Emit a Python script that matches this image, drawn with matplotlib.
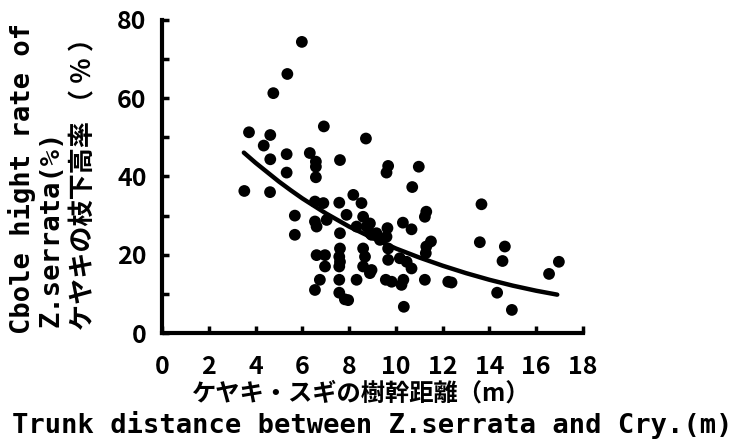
import matplotlib.pyplot as plt
import numpy as np

# distance between trunks (m) and clear-bole height rate (%)
dist = [5.98, 5.36, 4.76, 3.72, 4.63, 4.35, 4.63, 5.33, 6.32, 5.33,
        3.52, 4.62, 5.68, 5.68, 6.92, 8.72, 6.58, 6.58, 7.61, 6.58,
        9.67, 9.60, 10.98, 10.70, 13.66, 8.18, 8.53, 6.54, 6.90, 7.58,
        6.54, 6.61, 7.89, 8.60, 8.75, 8.90, 7.61, 7.61, 9.64, 9.60,
        10.30, 10.67, 11.30, 11.24, 11.50, 11.30, 11.28, 13.59, 14.66, 14.56,
        16.97, 16.55, 14.33, 14.96, 10.34, 11.24, 12.24, 12.38, 6.61, 6.97,
        6.97, 6.75, 6.54, 7.58, 7.61, 7.58, 7.58, 7.58, 7.82, 7.96,
        8.60, 8.68, 8.60, 8.89, 8.32, 9.67, 9.67, 9.57, 9.82, 10.17,
        10.46, 10.67, 10.32, 10.24, 9.17, 9.32, 8.89, 8.32, 8.96, 8.96,
        7.04]
rate = [74.4, 66.2, 61.3, 51.3, 50.6, 47.9, 44.4, 45.7, 46.0, 41.0,
        36.3, 36.0, 30.0, 25.1, 52.8, 49.7, 43.8, 42.5, 44.2, 39.8,
        42.7, 41.0, 42.5, 37.3, 32.9, 35.3, 33.2, 33.6, 33.2, 33.3,
        28.5, 27.2, 30.2, 29.7, 27.2, 25.5, 25.5, 21.6, 26.8, 24.6,
        28.2, 26.5, 31.0, 29.7, 23.4, 22.1, 20.4, 23.2, 22.1, 18.4,
        18.2, 15.1, 10.3, 5.9, 6.7, 13.6, 13.1, 12.9, 19.9, 19.9,
        17.0, 13.6, 11.0, 19.5, 18.2, 17.0, 13.6, 10.3, 8.6, 8.4,
        21.6, 19.5, 17.0, 15.3, 13.6, 21.6, 18.7, 13.6, 13.1, 19.1,
        18.2, 16.5, 13.6, 12.3, 25.5, 23.8, 28.0, 27.2, 25.1, 16.1,
        28.9]

# fitted curve
fit_x = [3.5, 4.0, 4.5, 5.0, 5.5, 6.0, 7.0, 8.0, 9.0, 10.0, 11.0, 12.0,
         13.0, 14.0, 15.0, 16.0, 16.9]
fit_y = [46.1, 43.5, 41.1, 38.7, 36.5, 34.4, 30.6, 27.2, 24.3, 21.6, 19.3,
         17.2, 15.3, 13.6, 12.1, 10.8, 9.8]

jp = ['Noto Sans CJK JP', 'DejaVu Sans']
en = ['DejaVu Sans Mono', 'Noto Sans CJK JP']
num = ['Liberation Sans Narrow', 'Noto Sans CJK JP']

fig = plt.figure(figsize=(7.37, 4.44), dpi=100)
ax = fig.add_axes([0.2198, 0.25, 0.5712, 0.705])

ax.scatter(dist, rate, s=72, c='black', edgecolors='none', zorder=3)
ax.plot(fit_x, fit_y, c='black', lw=3.2, solid_capstyle='round',
        solid_joinstyle='round', zorder=2)

ax.set_xlim(0, 18)
ax.set_ylim(0, 80)
ax.set_xticks(np.arange(0, 19, 2))
ax.set_yticks(np.arange(0, 81, 10))
ax.set_yticklabels(['0', '', '20', '', '40', '', '60', '', '80'])

for s in ['top', 'right']:
    ax.spines[s].set_visible(False)
for s in ['left', 'bottom']:
    ax.spines[s].set_linewidth(3)
ax.tick_params(direction='in', length=5, width=2.5)
ax.tick_params(axis='x', pad=16)
ax.tick_params(axis='y', pad=11)

for lab in ax.get_xticklabels() + ax.get_yticklabels():
    lab.set_family(num)
    lab.set_fontweight('bold')
    lab.set_fontsize(18)

fig.text(0.49, 0.113, 'ケヤキ・スギの樹幹距離（m）', family=jp, fontweight='bold',
         fontsize=17.5, ha='center', va='center')
fig.text(0.505, 0.043, 'Trunk distance between Z.serrata and Cry.(m)', family=en,
         fontweight='bold', fontsize=19.5, ha='center', va='center')

fig.text(0.030, 0.597, 'Cbole hight rate of', family=en, fontweight='bold',
         fontsize=19.5, rotation=90, ha='center', va='center')
fig.text(0.070, 0.484, 'Z.serrata(%)', family=en, fontweight='bold',
         fontsize=19.5, rotation=90, ha='center', va='center')
fig.text(0.114, 0.601, 'ケヤキの枝下高率 （ ％ ）', family=jp, fontweight='bold',
         fontsize=18.8, rotation=90, ha='center', va='center')

fig.savefig('out.png', dpi=100)
